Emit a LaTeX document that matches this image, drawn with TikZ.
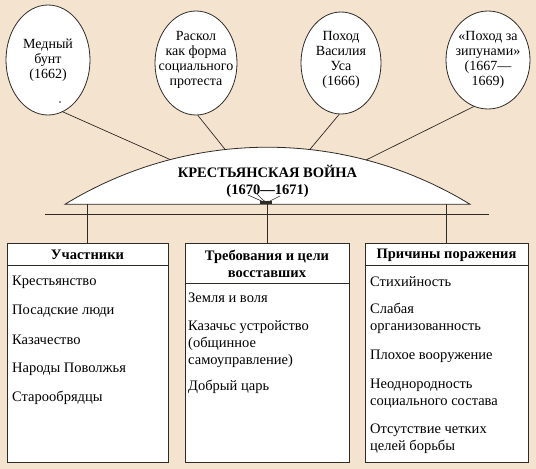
\documentclass[tikz,border=0pt]{standalone}
\usepackage{fontspec}
\setmainfont{Liberation Serif}
\usetikzlibrary{shapes.geometric,arrows.meta}
\definecolor{bg}{HTML}{F4E3CE}
\definecolor{ink}{HTML}{2E2A26}
\begin{document}
\begin{tikzpicture}[x=1pt,y=-1pt,
  oval/.style={ellipse,draw=ink,fill=white,line width=0.8pt,inner sep=0pt},
  ovaltext/.style={align=center,inner sep=0pt,font=\fontsize{14}{15}\selectfont},
  conn/.style={draw=ink,line width=0.7pt},
  box/.style={draw=ink,fill=white,line width=0.8pt,inner sep=0pt,rectangle},
  item/.style={anchor=west,align=left,inner sep=0pt,font=\fontsize{14.5}{16.8}\selectfont},
  head/.style={align=center,inner sep=0pt,font=\bfseries\fontsize{14.5}{16.8}\selectfont},
  tip/.style={draw=ink,line width=0.6pt,-{Stealth[length=3pt,width=2.5pt]}}]
\fill[bg] (0,0) rectangle (536,469);
\useasboundingbox (0,0) rectangle (536,469);

% ellipses
\node[oval,minimum width=84,minimum height=110] (e1) at (48,60) {};
\node[oval,minimum width=82,minimum height=104] (e2) at (196,63) {};
\node[oval,minimum width=80,minimum height=102] (e3) at (341,63) {};
\node[oval,minimum width=84,minimum height=98] (e4) at (488,60) {};
\node[ovaltext] (t1) at (48,60) {Медный\\бунт\\(1662)};
\node[ovaltext] (t2) at (196,59.5) {Раскол\\как форма\\социального\\протеста};
\node[ovaltext] (t3) at (341,60) {Поход\\Василия\\Уса\\(1666)};
\node[ovaltext] (t4) at (488,60) {«Поход за\\зипунами»\\(1667—\\1669)};
\fill[ink] (60,102) circle (0.8);

% dome
\filldraw[fill=white,draw=ink,line width=0.8pt]
  plot[domain=-31.45:31.45,samples=80] ({267.5+388*sin(\x)},{535.2-388*cos(\x)}) -- cycle;
\coordinate (d1) at (170,159.5);
\coordinate (d2) at (225,149.3);
\coordinate (d3) at (310,149.3);
\coordinate (d4) at (366,160);
\node[head] (war) at (267.5,181.5) {КРЕСТЬЯНСКАЯ ВОЙНА\\(1670—1671)};

\draw[conn] (e1.-74) -- (d1);
\draw[conn] (e2.-88) -- (d2);
\draw[conn] (e3.-92) -- (d3);
\draw[conn] (e4.-107) -- (d4);

% hub under title
\coordinate (hub) at (266,203);
\coordinate (a1) at (248,195);
\coordinate (a2) at (257,194);
\coordinate (a3) at (280,196);
\draw[tip] (a1) -- (hub);
\draw[tip] (a2) -- (hub);
\draw[tip] (a3) -- (hub);
\fill[ink] (260,201.3) rectangle (272,204.3);

% horizontal line
\coordinate (hl) at (45,214);
\coordinate (hr) at (489,214);
\draw[conn] (hl) -- (hr);

% boxes
\node[box,minimum width=161,minimum height=219] (b1) at (87.5,352.5) {};
\node[box,minimum width=164,minimum height=219] (b2) at (267,352.5) {};
\node[box,minimum width=163,minimum height=219] (b3) at (446.5,352.5) {};
\coordinate (base) at (0,204);
\draw[conn] (b1.north) -- (b1.north |- base);
\draw[conn] (b2.north) -- (b2.north |- base);
\draw[conn] (b3.north) -- (b3.north |- base);
\coordinate (hy1) at (0,265);
\coordinate (hy2) at (0,283);
\draw[conn] (b1.west |- hy1) -- (b1.east |- hy1);
\draw[conn] (b2.west |- hy2) -- (b2.east |- hy2);
\draw[conn] (b3.west |- hy1) -- (b3.east |- hy1);

\node[head] (h1) at (87.5,255) {Участники};
\node[head] (h2) at (267,263.5) {Требования и цели\\восставших};
\node[head] (h3) at (446.5,255) {Причины поражения};

% items box 1
\node[item] (p1) at (12,282) {Крестьянство};
\node[item] (p2) at (12,311) {Посадские люди};
\node[item] (p3) at (12,340) {Казачество};
\node[item] (p4) at (12,369) {Народы Поволжья};
\node[item] (p5) at (12,398) {Старообрядцы};
% items box 2
\node[item] (q1) at (188,298) {Земля и воля};
\node[item] (q2) at (188,344) {Казачьс устройство\\(общинное\\самоуправление)};
\node[item] (q3) at (188,387) {Добрый царь};
% items box 3
\node[item] (r1) at (370,282) {Стихийность};
\node[item] (r2) at (370,318.5) {Слабая\\организованность};
\node[item] (r3) at (370,356) {Плохое вооружение};
\node[item] (r4) at (370,393.5) {Неоднородность\\социального состава};
\node[item] (r5) at (370,438.5) {Отсутствие четких\\целей борьбы};
\end{tikzpicture}
\end{document}
